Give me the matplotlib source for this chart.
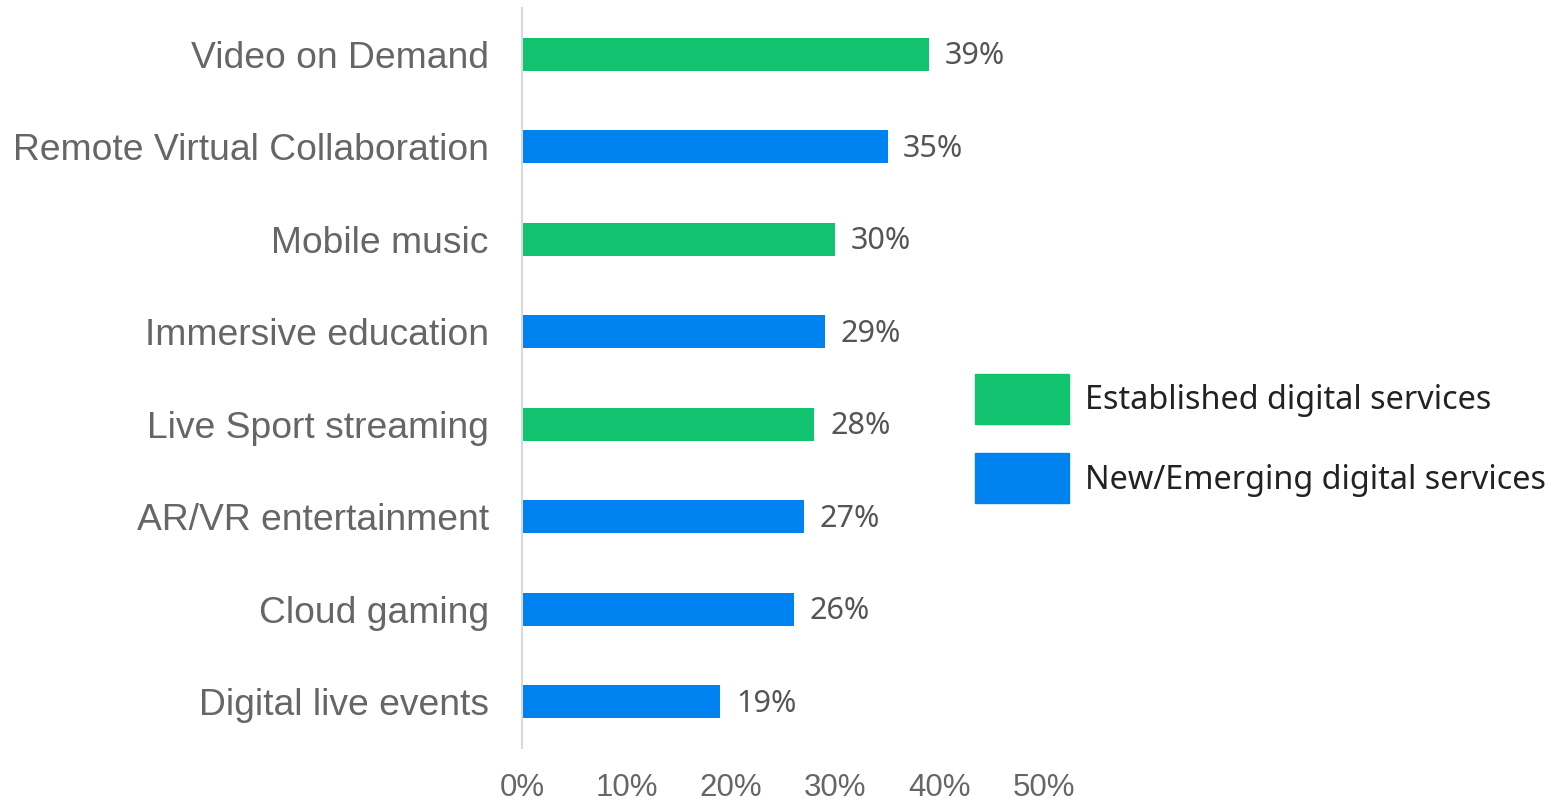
import matplotlib.pyplot as plt
from matplotlib.patches import Patch
from matplotlib.ticker import FuncFormatter

categories = ["Video on Demand", "Remote Virtual Collaboration", "Mobile music",
              "Immersive education", "Live Sport streaming", "AR/VR entertainment",
              "Cloud gaming", "Digital live events"]
values = [39, 35, 30, 29, 28, 27, 26, 19]
groups = ["est", "new", "est", "new", "est", "new", "new", "new"]
legend_labels = ["Established digital services", "New/Emerging digital services"]

GREEN = "#11C26F"
BLUE = "#0082F0"
colors = {"est": GREEN, "new": BLUE}

fig = plt.figure(figsize=(15.57, 8), dpi=100)
ax = fig.add_axes([0.3353, 0.065, 0.3353, 0.925])

ypos = list(range(len(categories)))
ax.barh(ypos, values, height=0.36, color=[colors[g] for g in groups])
for y, v in zip(ypos, values):
    ax.text(v + 1.5, y + 0.02, f"{v}%", va="center", ha="left", fontsize=22,
            color="#555555", family="Noto Sans")

ax.set_ylim(len(categories) - 0.5, -0.5)
ax.set_xlim(0, 50)
ax.set_xticks(range(0, 51, 10))
ax.xaxis.set_major_formatter(FuncFormatter(lambda x, p: f"{x:.0f}%"))
ax.set_yticks(ypos)
ax.set_yticklabels(categories)
ax.tick_params(axis="y", length=0, pad=24, labelsize=26.8, labelcolor="#666666")
ax.tick_params(axis="x", length=0, pad=18, labelsize=22.5, labelcolor="#666666")
for lab in ax.get_xticklabels() + ax.get_yticklabels():
    lab.set_family("Liberation Sans")
for s in ["top", "right", "bottom"]:
    ax.spines[s].set_visible(False)
ax.spines["left"].set_color("#D9D9D9")
ax.spines["left"].set_linewidth(1.5)

handles = [Patch(color=GREEN), Patch(color=BLUE)]
fig.legend(handles, legend_labels, loc="center left", bbox_to_anchor=(0.6077, 0.4516),
           frameon=False, handlelength=2.9, handleheight=2.0,
           labelspacing=0.91, handletextpad=0.5, prop={"family": "Noto Sans", "size": 23.3},
           labelcolor="#222222")

fig.savefig("out.png", dpi=100)
